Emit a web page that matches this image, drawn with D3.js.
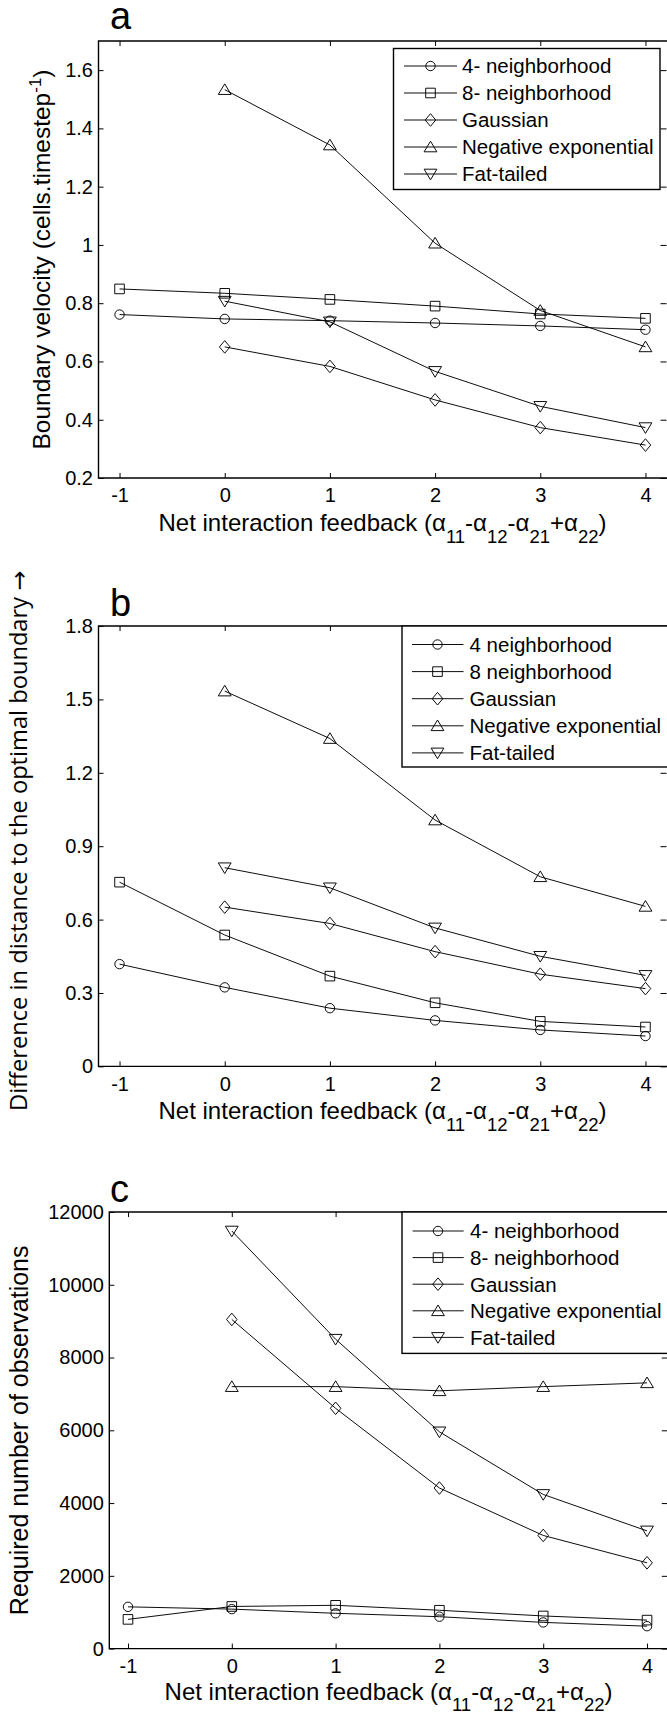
<!DOCTYPE html>
<html><head><meta charset="utf-8">
<script src="https://cdn.jsdelivr.net/npm/d3@7"></script>
<style>body{margin:0;background:#fff}svg{display:block}</style>
</head><body>
<svg id="chart" width="667" height="1715"></svg>
<script>
// ---------- DATA ----------
const xValues = [-1, 0, 1, 2, 3, 4];
const markerTypes = ["circle", "square", "diamond", "triUp", "triDown"];

const legendA = ["4- neighborhood", "8- neighborhood", "Gaussian", "Negative exponential", "Fat-tailed"];
const legendB = ["4 neighborhood", "8 neighborhood", "Gaussian", "Negative exponential", "Fat-tailed"];
const legendC = ["4- neighborhood", "8- neighborhood", "Gaussian", "Negative exponential", "Fat-tailed"];

// panel a: boundary velocity
const a_four   = [0.761, 0.746, 0.740, 0.732, 0.722, 0.709];
const a_eight  = [0.849, 0.834, 0.813, 0.790, 0.763, 0.748];
const a_gauss  = [null, 0.650, 0.583, 0.468, 0.373, 0.313];
const a_negexp = [null, 1.533, 1.343, 1.006, 0.775, 0.650];
const a_fat    = [null, 0.807, 0.736, 0.566, 0.446, 0.373];

// panel b: difference in distance to optimal boundary
const b_four   = [0.418, 0.323, 0.238, 0.188, 0.149, 0.124];
const b_eight  = [0.753, 0.537, 0.369, 0.260, 0.184, 0.161];
const b_gauss  = [null, 0.651, 0.584, 0.469, 0.377, 0.318];
const b_negexp = [null, 1.534, 1.340, 1.007, 0.775, 0.654];
const b_fat    = [null, 0.812, 0.730, 0.566, 0.450, 0.372];

// panel c: required number of observations
const c_four   = [1148, 1085, 970, 877, 720, 616];
const c_eight  = [803, 1158, 1190, 1054, 897, 783];
const c_gauss  = [null, 9047, 6605, 4414, 3110, 2358];
const c_negexp = [null, 7200, 7200, 7085, 7200, 7304];
const c_fat    = [null, 11478, 8504, 5958, 4237, 3235];

const yTicksA = [0.2, 0.4, 0.6, 0.8, 1.0, 1.2, 1.4, 1.6];
const yTicksB = [0, 0.3, 0.6, 0.9, 1.2, 1.5, 1.8];
const yTicksC = [0, 2000, 4000, 6000, 8000, 10000, 12000];
const yDomainA = [0.2, 1.7];
const yDomainB = [0, 1.8];
const yDomainC = [0, 12000];

// ---------- DRAW ----------
const FONT = "'Liberation Sans', Arial, Helvetica, sans-serif";
const svg = d3.select("#chart").style("font-family", FONT);

function markerPath(type) {
  switch (type) {
    case "circle": { const r = 4.7; return `M${r},0A${r},${r} 0 1,1 ${-r},0A${r},${r} 0 1,1 ${r},0Z`; }
    case "square": { const h = 4.8; return `M${-h},${-h}H${h}V${h}H${-h}Z`; }
    case "diamond": return "M0,-6.3L5.3,0L0,6.3L-5.3,0Z";
    case "triUp": return "M0,-5.8L6.4,4.8L-6.4,4.8Z";
    case "triDown": return "M0,5.8L6.4,-4.8L-6.4,-4.8Z";
  }
}

const panels = [
  { letter: "a", series: [a_four, a_eight, a_gauss, a_negexp, a_fat], names: legendA,
    yDomain: yDomainA, yTicks: yTicksA,
    L: { left: 98.5, right: 666.5, top: 41, bottom: 478, xDomain: [-1.2, 4.2], letterX: 110, letterY: 29, xlabDy: 53, subShift: 12,
         legend: { x: 393.5, y: 48.5, w: 266.5, h: 141, row0: 66, dy: 27, lx0: 404, lx1: 457, mx: 430.5, tx: 462 } } },
  { letter: "b", series: [b_four, b_eight, b_gauss, b_negexp, b_fat], names: legendB,
    yDomain: yDomainB, yTicks: yTicksB,
    L: { left: 98.5, right: 666.5, top: 626, bottom: 1066.4, xDomain: [-1.2, 4.2], letterX: 110, letterY: 616, xlabDy: 52.5, subShift: 12,
         legend: { x: 402, y: 626, w: 300, h: 141, row0: 644.5, dy: 27.1, lx0: 412, lx1: 463.5, mx: 437.5, tx: 469.5 } } },
  { letter: "c", series: [c_four, c_eight, c_gauss, c_negexp, c_fat], names: legendC,
    yDomain: yDomainC, yTicks: yTicksC,
    L: { left: 109.3, right: 667.8, top: 1212, bottom: 1648.6, xDomain: [-1.18, 4.2], letterX: 110, letterY: 1202, xlabDy: 51.8, subShift: 10.8,
         legend: { x: 402, y: 1212, w: 300, h: 141.4, row0: 1231, dy: 26.6, lx0: 412.6, lx1: 463.7, mx: 438, tx: 470 } } }
];

function fmt(v) { return String(+v.toFixed(1)); }

panels.forEach((p) => {
  const L = p.L;
  const x = d3.scaleLinear().domain(L.xDomain).range([L.left, L.right]);
  const y = d3.scaleLinear().domain(p.yDomain).range([L.bottom, L.top]);
  const g = svg.append("g");

  // axes with inward ticks
  const axL = g.append("g").attr("transform", `translate(${L.left},0)`)
    .call(d3.axisLeft(y).tickValues(p.yTicks).tickFormat(fmt).tickSizeInner(-5).tickSizeOuter(0).tickPadding(5.5));
  const axB = g.append("g").attr("transform", `translate(0,${L.bottom})`)
    .call(d3.axisBottom(x).tickValues(xValues).tickFormat(d => String(d)).tickSizeInner(-5).tickSizeOuter(0).tickPadding(10));
  const axT = g.append("g").attr("transform", `translate(0,${L.top})`)
    .call(d3.axisTop(x).tickValues(xValues).tickFormat("").tickSizeInner(-5).tickSizeOuter(0));
  const axR = g.append("g").attr("transform", `translate(${L.right},0)`)
    .call(d3.axisRight(y).tickValues(p.yTicks).tickFormat("").tickSizeInner(-6).tickSizeOuter(0));
  [axL, axB, axT, axR].forEach(a => {
    a.select(".domain").remove();
    a.selectAll("line").attr("stroke", "#000").attr("stroke-width", 1);
    a.selectAll("text").attr("fill", "#000").style("font-family", FONT).style("font-size", "20px");
  });

  // box
  g.append("path")
    .attr("d", `M${L.right + 2},${L.top}H${L.left}V${L.bottom}H${L.right + 2}`)
    .attr("fill", "none").attr("stroke", "#000").attr("stroke-width", 1.4);

  // series
  const line = d3.line().defined(d => d.v != null).x(d => x(d.x)).y(d => y(d.v));
  p.series.forEach((vals, si) => {
    const pts = vals.map((v, i) => ({ x: xValues[i], v }));
    g.append("path").datum(pts).attr("d", line)
      .attr("fill", "none").attr("stroke", "#000").attr("stroke-width", 0.95);
    g.selectAll(null).data(pts.filter(d => d.v != null)).enter().append("path")
      .attr("d", markerPath(markerTypes[si]))
      .attr("transform", d => `translate(${x(d.x)},${y(d.v)})`)
      .attr("fill", "none").attr("stroke", "#000").attr("stroke-width", 0.95);
  });

  // legend
  const lg = L.legend;
  g.append("rect").attr("x", lg.x).attr("y", lg.y).attr("width", lg.w).attr("height", lg.h)
    .attr("fill", "#fff").attr("stroke", "#000").attr("stroke-width", 1.4);
  p.names.forEach((name, i) => {
    const yy = lg.row0 + i * lg.dy;
    g.append("line").attr("x1", lg.lx0).attr("x2", lg.lx1).attr("y1", yy).attr("y2", yy)
      .attr("stroke", "#000").attr("stroke-width", 0.95);
    g.append("path").attr("d", markerPath(markerTypes[i])).attr("transform", `translate(${lg.mx},${yy})`)
      .attr("fill", "none").attr("stroke", "#000").attr("stroke-width", 0.95);
    g.append("text").attr("x", lg.tx).attr("y", yy).attr("dy", "0.36em")
      .style("font-size", "20.5px").attr("fill", "#000").text(name);
  });

  // panel letter
  g.append("text").attr("x", L.letterX).attr("y", L.letterY)
    .style("font-size", "38px").attr("fill", "#000").text(p.letter);

  // x label with subscripts
  const cx = (L.left + L.right) / 2;
  const xl = g.append("text").attr("x", cx).attr("y", L.bottom + L.xlabDy)
    .attr("text-anchor", "middle").style("font-size", "24px").attr("fill", "#000");
  xl.append("tspan").text("Net interaction feedback (");
  const subs = [["α", "11"], ["-α", "12"], ["-α", "21"], ["+α", "22"]];
  const sh = L.subShift;
  subs.forEach(([m, s], k) => {
    xl.append("tspan").attr("dy", k === 0 ? 0 : -sh).text(m);
    xl.append("tspan").attr("dy", sh).style("font-size", "18.5px").text(s);
  });
  xl.append("tspan").attr("dy", -sh).text(")");
});

// y labels
const ya = svg.append("text").attr("transform", "translate(50,259.5) rotate(-90)")
  .attr("text-anchor", "middle").style("font-size", "24.5px").attr("fill", "#000");
ya.append("tspan").text("Boundary velocity (cells.timestep");
ya.append("tspan").attr("dy", -9).style("font-size", "17px").text("-1");
ya.append("tspan").attr("dy", 9).text(")");

const BFONT = 24.2;
const yb = svg.append("text").attr("transform", "translate(26.5,841) rotate(-90)")
  .attr("text-anchor", "middle").style("font-family", "'Open Sans', 'Noto Sans', sans-serif")
  .style("font-size", BFONT + "px").attr("fill", "#000");
yb.append("tspan").text("Difference in distance to the optimal boundary ");
yb.append("tspan").style("font-family", "'DejaVu Sans', sans-serif").text("\u2192");

function fitB() {
  yb.style("font-size", BFONT + "px");
  const len = yb.node().getComputedTextLength();
  if (len > 100) yb.style("font-size", (BFONT * 540 / len).toFixed(2) + "px");
}
if (document.fonts && document.fonts.load) {
  Promise.all([document.fonts.load(BFONT + "px 'Open Sans'"), document.fonts.load(BFONT + "px 'DejaVu Sans'")])
    .then(fitB).catch(() => {});
}

svg.append("text").attr("transform", "translate(28,1430.3) rotate(-90)")
  .attr("text-anchor", "middle").style("font-size", "25px").attr("fill", "#000")
  .text("Required number of observations");
</script>
</body></html>
